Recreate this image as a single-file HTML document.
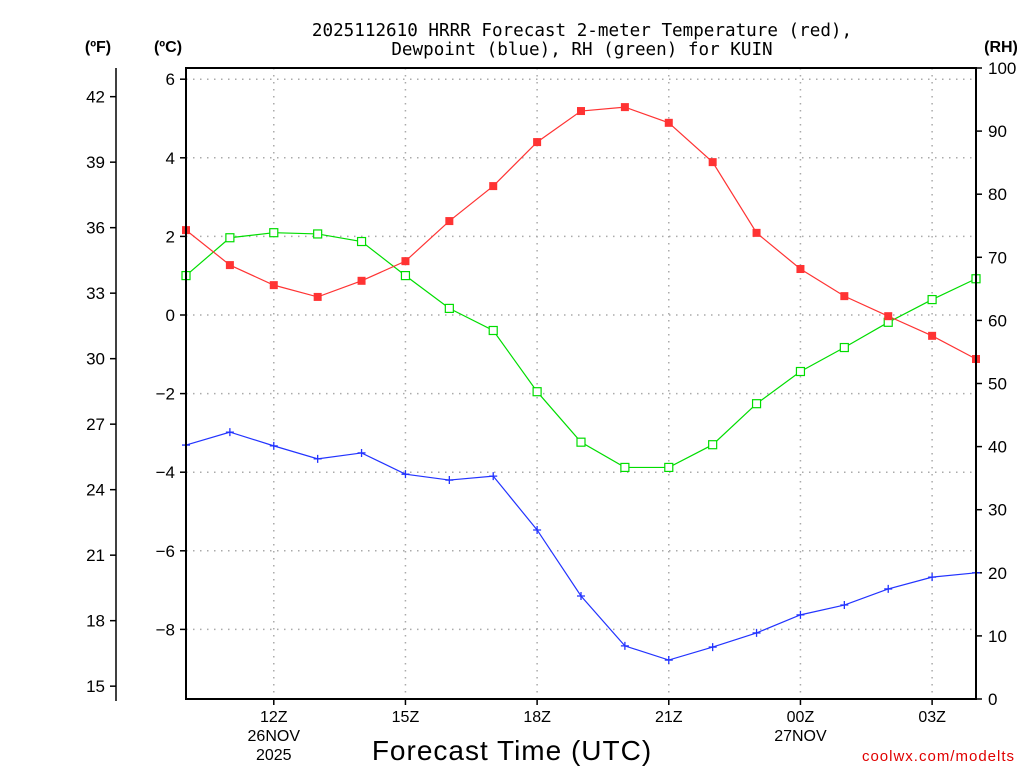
<!DOCTYPE html>
<html><head><meta charset="utf-8"><style>
html,body{margin:0;padding:0;background:#fff;}
svg{display:block;font-family:"Liberation Sans",sans-serif;}
</style></head><body>
<svg id="chart" width="1024" height="768" viewBox="0 0 1024 768" xmlns="http://www.w3.org/2000/svg">
<g font-size="17.6" text-anchor="middle" fill="#000" font-family="'DejaVu Sans Mono','Liberation Mono',monospace">
<text x="582" y="36">2025112610 HRRR Forecast 2-meter Temperature (red),</text>
<text x="582" y="55">Dewpoint (blue), RH (green) for KUIN</text>
</g>
<text x="98" y="52" font-size="16" font-weight="bold" text-anchor="middle">(ºF)</text>
<text x="168" y="52" font-size="16" font-weight="bold" text-anchor="middle">(ºC)</text>
<text x="1001" y="52" font-size="16" font-weight="bold" text-anchor="middle">(RH)</text>
<g id="grid"></g>
<g id="axes"></g>
<g id="series"></g>
<rect x="186" y="68" width="790" height="631" fill="none" stroke="#000" stroke-width="2"/>
<text x="512" y="760" font-size="28" text-anchor="middle" letter-spacing="1">Forecast Time (UTC)</text>
<text x="1015" y="761" font-size="15" fill="#e00000" text-anchor="end" letter-spacing="1">coolwx.com/modelts</text>
</svg>
<script>
const hours = [10,11,12,13,14,15,16,17,18,19,20,21,22,23,24,25,26,27,28];
const tempC = [2.16,1.27,0.76,0.46,0.87,1.37,2.39,3.28,4.40,5.19,5.29,4.89,3.89,2.09,1.17,0.48,-0.03,-0.53,-1.12];
const dewC = [-3.31,-2.98,-3.33,-3.66,-3.51,-4.05,-4.20,-4.10,-5.47,-7.15,-8.42,-8.78,-8.45,-8.09,-7.63,-7.38,-6.97,-6.67,-6.56];
const rh = [67.1,73.1,73.9,73.7,72.5,67.1,61.9,58.4,48.7,40.7,36.7,36.7,40.3,46.8,51.9,55.7,59.7,63.3,66.6];
const xTickHours = [12,15,18,21,24,27];
const xTickLabels = ["12Z","15Z","18Z","21Z","00Z","03Z"];
const xTickSub = [["26NOV","2025"],[],[],[],["27NOV"],[]];
const cTicks = [6,4,2,0,-2,-4,-6,-8];
const fTicks = [42,39,36,33,30,27,24,21,18,15];
const rhTicks = [0,10,20,30,40,50,60,70,80,90,100];

const NS="http://www.w3.org/2000/svg";
const X0=186,X1=976,Y0=68,Y1=699;
const xs=h=>X0+(h-10)*(X1-X0)/18;
const yC=c=>315-c*39.3;
const yF=f=>yC((f-32)/1.8);
const yR=r=>Y1-r*(Y1-Y0)/100;
function mk(tag,attrs,parent,txt){const e=document.createElementNS(NS,tag);for(const k in attrs)e.setAttribute(k,attrs[k]);if(txt!==undefined)e.textContent=txt;parent.appendChild(e);return e;}
const grid=document.getElementById('grid'),axes=document.getElementById('axes'),ser=document.getElementById('series');
const gs={stroke:"#aaa","stroke-width":1.5,"stroke-dasharray":"1.5,5.5"};
cTicks.forEach(c=>{
  const g=mk('line',Object.assign({x1:X0,x2:X1,y1:yC(c),y2:yC(c)},gs),grid);
  
  
  mk('line',{x1:X0-6,x2:X0,y1:yC(c),y2:yC(c),stroke:"#000","stroke-width":1.5},axes);
  const t=mk('text',{x:X0-11,y:yC(c)+6,"font-size":17,"text-anchor":"end"},axes,c<0?"\u2212"+(-c):String(c));
  
  
});
xTickHours.forEach((h,i)=>{
  const g=mk('line',Object.assign({x1:xs(h),x2:xs(h),y1:Y0,y2:Y1},gs),grid);
  
  
  mk('line',{x1:xs(h),x2:xs(h),y1:Y1,y2:Y1+6,stroke:"#000","stroke-width":1.5},axes);
  const t=mk('text',{x:xs(h),y:722,"font-size":16,"text-anchor":"middle"},axes,xTickLabels[i]);
  
  
  xTickSub[i].forEach((s,j)=>{
    const u=mk('text',{x:xs(h),y:741+j*19,"font-size":16,"text-anchor":"middle"},axes,s);
    
    
  });
});
mk('line',{x1:116,x2:116,y1:Y0,y2:Y1+2,stroke:"#000","stroke-width":1.5},axes);
fTicks.forEach(f=>{
  mk('line',{x1:110,x2:116,y1:yF(f),y2:yF(f),stroke:"#000","stroke-width":1.5},axes);
  const t=mk('text',{x:105,y:yF(f)+6,"font-size":17,"text-anchor":"end"},axes,String(f));
  
  
});
rhTicks.forEach(r=>{
  mk('line',{x1:X1,x2:X1+6,y1:yR(r),y2:yR(r),stroke:"#000","stroke-width":1.5},axes);
  const t=mk('text',{x:988,y:yR(r)+6,"font-size":17,"text-anchor":"start"},axes,String(r));
  
  
});
function line(vals,yf,color,name){
  const p=mk('polyline',{points:vals.map((v,i)=>xs(hours[i])+","+yf(v)).join(" "),fill:"none",stroke:color,"stroke-width":1.2},ser);
  
  
}
line(rh,yR,"#00dd00","rh");
line(tempC,yC,"#ff3333","temperature");
line(dewC,yC,"#2233ff","dewpoint");
rh.forEach((v,i)=>{const m=mk('rect',{x:xs(hours[i])-4,y:yR(v)-4,width:8,height:8,fill:"#fff",stroke:"#00dd00","stroke-width":1.2},ser);
  
  });
tempC.forEach((v,i)=>{const m=mk('rect',{x:xs(hours[i])-4,y:yC(v)-4,width:8,height:8,fill:"#ff3333"},ser);
  
  });
dewC.forEach((v,i)=>{const x=xs(hours[i]),y=yC(v);const m=mk('path',{d:`M${x-4},${y}H${x+4}M${x},${y-4}V${y+4}`,stroke:"#2233ff","stroke-width":1.3},ser);
  
  });
</script>
</body></html>
